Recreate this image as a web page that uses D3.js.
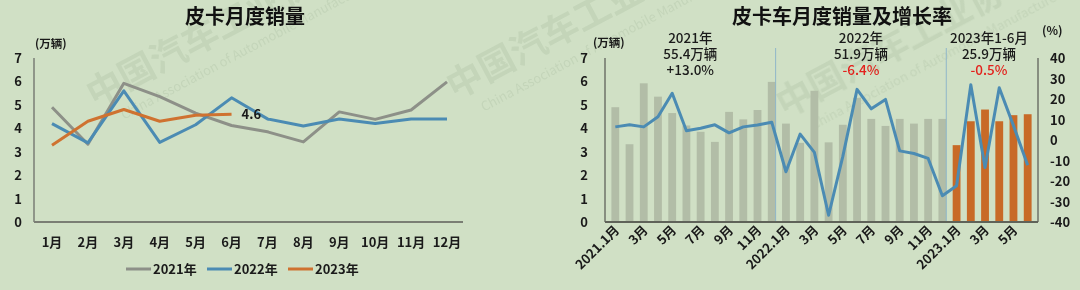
<!DOCTYPE html>
<html>
<head>
<meta charset="utf-8">
<script src="https://cdn.jsdelivr.net/npm/d3@7"></script>
<style>
  html, body { margin: 0; padding: 0; background: #d0e0c5; }
  svg { display: block; font-family: "Noto Sans CJK SC", "Noto Sans", sans-serif; }
  .tick-label { font-size: 13px; font-weight: bold; fill: #1a1a1a; }
</style>
</head>
<body>
<svg id="chart" width="1080" height="290"></svg>
<script>
// ---- data ----
const months = ["1月", "2月", "3月", "4月", "5月", "6月", "7月", "8月", "9月", "10月", "11月", "12月"];
const sales2021 = [4.9, 3.32, 5.92, 5.35, 4.65, 4.12, 3.85, 3.42, 4.7, 4.38, 4.78, 5.98];
const sales2022 = [4.2, 3.38, 5.6, 3.4, 4.15, 5.3, 4.4, 4.1, 4.4, 4.2, 4.4, 4.4];
const sales2023 = [3.28, 4.3, 4.8, 4.3, 4.56, 4.6];
const seriesNames = ["2021年", "2022年", "2023年"];

const periodLabels = [
  "2021.1月", "2月", "3月", "4月", "5月", "6月", "7月", "8月", "9月", "10月", "11月", "12月",
  "2022.1月", "2月", "3月", "4月", "5月", "6月", "7月", "8月", "9月", "10月", "11月", "12月",
  "2023.1月", "2月", "3月", "4月", "5月", "6月"
];
const growthRate = [6.4, 7.4, 6.4, 11.3, 22.8, 4.5, 5.7, 7.4, 3.5, 6.4, 7.3, 8.7,
                    -15.5, 2.9, -6, -36.7, -8, 24.7, 15.2, 19.8, -5.3, -6.6, -9, -27.2,
                    -22.3, 27, -13.4, 25.5, 7, -12.3];
const noteYears = ["2021年", "2022年", "2023年1-6月"];
const noteTotals = ["55.4万辆", "51.9万辆", "25.9万辆"];
const noteGrowth = ["+13.0%", "-6.4%", "-0.5%"];
const leftTicks = [0, 1, 2, 3, 4, 5, 6, 7];
const rightTicks = [-40, -30, -20, -10, 0, 10, 20, 30, 40];

const svg = d3.select("#chart");
const colGray = "#8d9088", colBlue = "#4b8bb3", colOrange = "#cf7230";
const colBarGray = "#b2bda7", colBarOrange = "#c86a27";

// faint watermark
const wm = svg.append("g").attr("opacity", 0.08).attr("fill", "#3d5a3a");
[[95, 108], [455, 100], [785, 118]].forEach(p => {
  const g = wm.append("g").attr("transform", `translate(${p[0]},${p[1]}) rotate(-28)`);
  g.append("text").attr("font-size", 36).attr("font-weight", "bold").text("中国汽车工业协会");
  g.append("text").attr("x", 20).attr("y", 24).attr("font-size", 13)
    .text("China Association of Automobile Manufacturers");
});

// ================= left chart =================
const x1 = d3.scalePoint().domain(months).range([52, 447]);
const y1 = d3.scaleLinear().domain([0, 7]).range([222, 58]);

svg.append("text").attr("x", 245).attr("y", 24).attr("text-anchor", "middle")
  .attr("font-size", 20).attr("font-weight", "bold").attr("fill", "#111").text("皮卡月度销量");
svg.append("text").attr("x", 35).attr("y", 48).attr("font-size", 11.5)
  .attr("font-weight", "bold").attr("fill", "#1a1a1a").text("(万辆)");

svg.selectAll(".l-ytick").data(leftTicks).enter().append("text")
  .attr("class", "tick-label").attr("x", 22).attr("y", d => y1(d) + 5)
  .attr("text-anchor", "end").text(d => d);

svg.append("line").attr("x1", 34).attr("x2", 34).attr("y1", 58).attr("y2", 222)
  .attr("stroke", "#7a7e74").attr("stroke-width", 1.5);
svg.append("line").attr("x1", 34).attr("x2", 463).attr("y1", 222).attr("y2", 222)
  .attr("stroke", "#7a7e74").attr("stroke-width", 2);

svg.selectAll(".l-xtick").data(months).enter().append("text")
  .attr("class", "tick-label").attr("x", d => x1(d)).attr("y", 247)
  .attr("text-anchor", "middle").text(d => d);

const line1 = d3.line().x((d, i) => x1(months[i])).y(d => y1(d));
[[sales2021, colGray], [sales2022, colBlue], [sales2023, colOrange]].forEach(s => {
  svg.append("path").attr("d", line1(s[0])).attr("fill", "none")
    .attr("stroke", s[1]).attr("stroke-width", 3).attr("stroke-linejoin", "round");
});
svg.append("text").attr("class", "tick-label")
  .attr("x", x1(months[sales2023.length - 1]) + 10).attr("y", y1(sales2023[5]) + 5)
  .text(sales2023[5]);

// legend
const legend = svg.append("g");
[colGray, colBlue, colOrange].forEach((c, i) => {
  const lx = 126 + i * 81;
  legend.append("line").attr("x1", lx).attr("x2", lx + 25).attr("y1", 269).attr("y2", 269)
    .attr("stroke", c).attr("stroke-width", 3);
  legend.append("text").attr("class", "tick-label").attr("x", lx + 27).attr("y", 274)
    .text(seriesNames[i]);
});

// ================= right chart =================
const x2 = d3.scaleBand().domain(d3.range(periodLabels.length)).range([605, 1038]).padding(0.45);
const y2 = d3.scaleLinear().domain([0, 7]).range([222, 58]);
const y2r = d3.scaleLinear().domain([-40, 40]).range([222, 58]);
const allSales = sales2021.concat(sales2022, sales2023);
const step = x2.step();

svg.append("text").attr("x", 842).attr("y", 24).attr("text-anchor", "middle")
  .attr("font-size", 20).attr("font-weight", "bold").attr("fill", "#111").text("皮卡车月度销量及增长率");
svg.append("text").attr("x", 593).attr("y", 47).attr("font-size", 11.5)
  .attr("font-weight", "bold").attr("fill", "#1a1a1a").text("(万辆)");
svg.append("text").attr("x", 1042).attr("y", 35).attr("font-size", 12)
  .attr("font-weight", "bold").attr("fill", "#1a1a1a").text("(%)");

svg.selectAll(".r-bar").data(allSales).enter().append("rect")
  .attr("x", (d, i) => x2(i)).attr("width", x2.bandwidth())
  .attr("y", d => y2(d)).attr("height", d => y2(0) - y2(d))
  .attr("fill", (d, i) => i >= 24 ? colBarOrange : colBarGray);

// year separators
[12, 24].forEach(i => {
  svg.append("line").attr("x1", 605 + i * step).attr("x2", 605 + i * step)
    .attr("y1", 48).attr("y2", 222).attr("stroke", "#8fb6c9").attr("stroke-width", 1);
});

svg.append("path")
  .attr("d", d3.line().x((d, i) => x2(i) + x2.bandwidth() / 2).y(d => y2r(d))(growthRate))
  .attr("fill", "none").attr("stroke", colBlue).attr("stroke-width", 3)
  .attr("stroke-linejoin", "round");

svg.append("line").attr("x1", 605).attr("x2", 605).attr("y1", 58).attr("y2", 222)
  .attr("stroke", "#6f7369").attr("stroke-width", 1.5);
svg.append("line").attr("x1", 1038).attr("x2", 1038).attr("y1", 58).attr("y2", 222)
  .attr("stroke", "#6f7369").attr("stroke-width", 1.5);
svg.append("line").attr("x1", 605).attr("x2", 1038).attr("y1", 222).attr("y2", 222)
  .attr("stroke", "#5f6359").attr("stroke-width", 2);

svg.selectAll(".r-ytick").data(leftTicks).enter().append("text")
  .attr("class", "tick-label").attr("x", 588).attr("y", d => y2(d) + 5)
  .attr("text-anchor", "end").text(d => d);
svg.selectAll(".r-ytick2").data(rightTicks).enter().append("text")
  .attr("class", "tick-label").attr("x", 1050).attr("y", d => y2r(d) + 5)
  .text(d => d);

svg.selectAll(".r-xtick").data(periodLabels.filter((d, i) => i % 2 === 0)).enter().append("text")
  .attr("class", "tick-label")
  .attr("transform", (d, i) => `translate(${x2(i * 2) + x2.bandwidth() / 2 + 5},231) rotate(-45)`)
  .attr("text-anchor", "end").attr("font-size", 12.5).text(d => d);

// period annotations
const groupStart = [0, 12, 24], groupEnd = [12, 24, 30];
noteYears.forEach((t, i) => {
  const cx = 605 + (groupStart[i] + groupEnd[i]) / 2 * step;
  const g = svg.append("g").attr("text-anchor", "middle").attr("font-size", 13.5).attr("font-weight", 500);
  g.append("text").attr("x", cx).attr("y", 43).attr("fill", "#1a1a1a").text(t);
  g.append("text").attr("x", cx).attr("y", 59).attr("fill", "#1a1a1a").text(noteTotals[i]);
  g.append("text").attr("x", cx).attr("y", 75)
    .attr("fill", i === 0 ? "#1a1a1a" : "#e3211c").text(noteGrowth[i]);
});
</script>
</body>
</html>
